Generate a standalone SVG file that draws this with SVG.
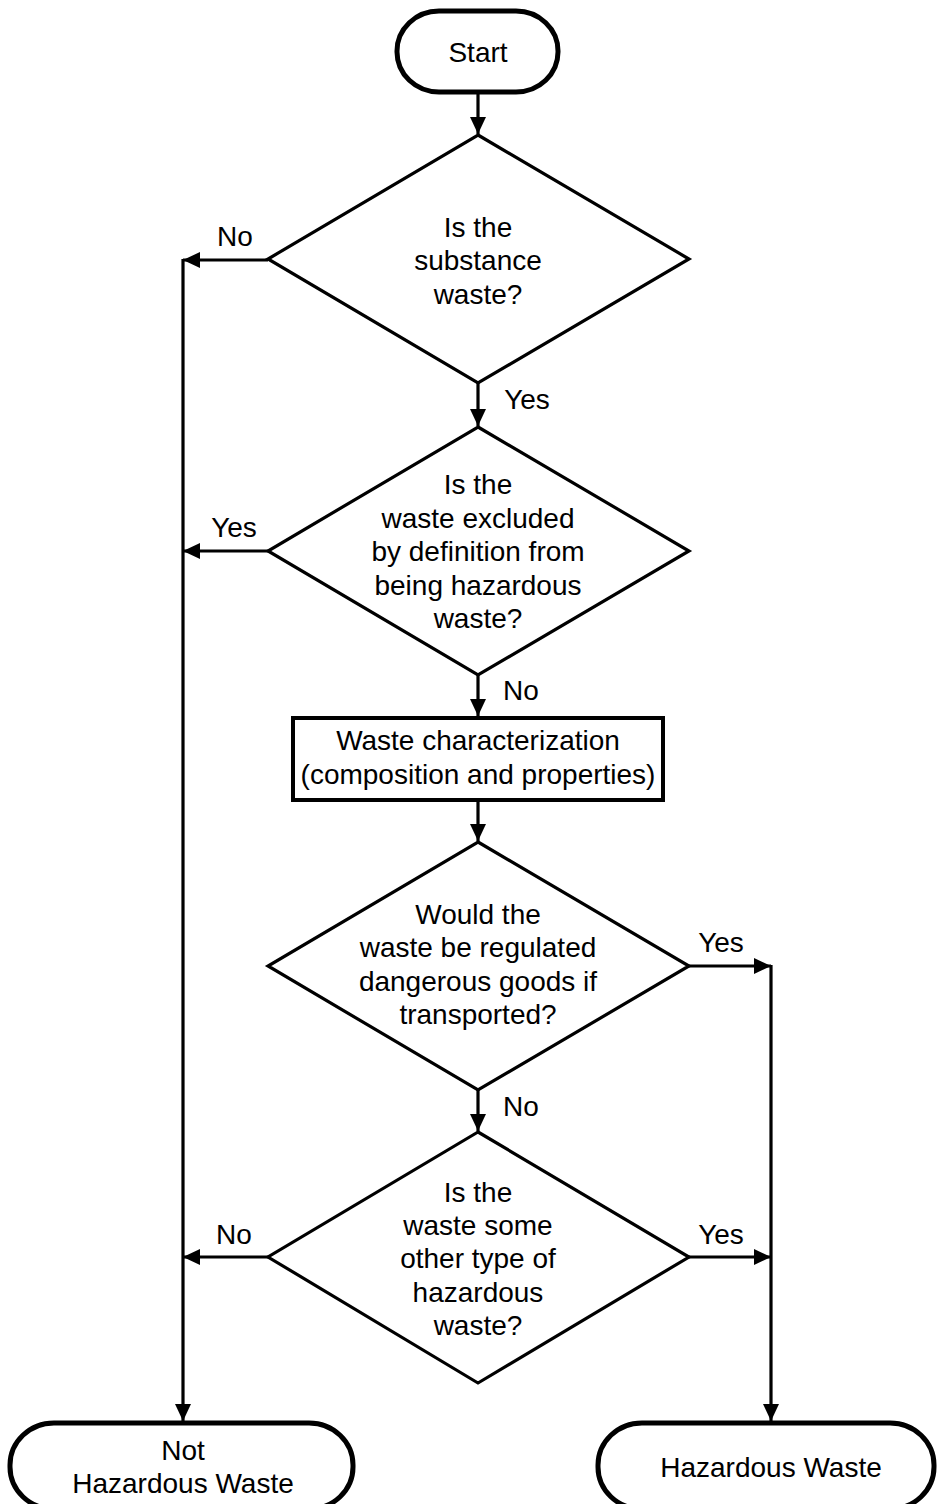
<svg xmlns="http://www.w3.org/2000/svg" width="938" height="1504" viewBox="0 0 938 1504">
  <style>
    .t { font-family: "Liberation Sans", Arial, sans-serif; font-size: 28px; fill: #000; text-anchor: middle; }
    .term { fill: #fff; stroke: #000; stroke-width: 5; }
    .dec { fill: #fff; stroke: #000; stroke-width: 3.2; stroke-linejoin: miter; }
    .proc { fill: #fff; stroke: #000; stroke-width: 4; }
    .c { fill: none; stroke: #000; stroke-width: 3.2; }
  </style>
  <defs>
    <marker id="ah" markerUnits="userSpaceOnUse" markerWidth="18" markerHeight="18" viewBox="0 0 18 18" refX="17" refY="9" orient="auto">
      <path d="M0,1 L17,9 L0,17 Z" fill="#000"/>
    </marker>
  </defs>
  <rect width="938" height="1504" fill="#fff"/>

  <g id="connectors">
    <line class="c" x1="478" y1="92" x2="478" y2="134" marker-end="url(#ah)"/>
    <line class="c" x1="268" y1="260" x2="183" y2="260" marker-end="url(#ah)"/>
    <line class="c" x1="183" y1="259" x2="183" y2="1421" marker-end="url(#ah)"/>
    <line class="c" x1="478" y1="383" x2="478" y2="426" marker-end="url(#ah)"/>
    <line class="c" x1="268" y1="551" x2="183" y2="551" marker-end="url(#ah)"/>
    <line class="c" x1="478" y1="675" x2="478" y2="716" marker-end="url(#ah)"/>
    <line class="c" x1="478" y1="800" x2="478" y2="841" marker-end="url(#ah)"/>
    <line class="c" x1="689" y1="966" x2="771" y2="966" marker-end="url(#ah)"/>
    <line class="c" x1="771" y1="965" x2="771" y2="1421" marker-end="url(#ah)"/>
    <line class="c" x1="478" y1="1090" x2="478" y2="1131" marker-end="url(#ah)"/>
    <line class="c" x1="268" y1="1257" x2="183" y2="1257" marker-end="url(#ah)"/>
    <line class="c" x1="689" y1="1257" x2="771" y2="1257" marker-end="url(#ah)"/>
    <text class="t" x="235" y="246">No</text>
    <text class="t" x="527" y="409">Yes</text>
    <text class="t" x="234" y="537">Yes</text>
    <text class="t" x="521" y="700">No</text>
    <text class="t" x="721" y="952">Yes</text>
    <text class="t" x="521" y="1116">No</text>
    <text class="t" x="234" y="1244">No</text>
    <text class="t" x="721" y="1244">Yes</text>
  </g>

  <g id="start">
    <rect class="term" x="397" y="11" width="161" height="81" rx="42" ry="40"/>
    <text class="t" x="478" y="62">Start</text>
  </g>

  <g id="d1">
    <polygon class="dec" points="478,135 689,259 478,383 268,259"/>
    <text class="t" x="478" y="237">Is the</text>
    <text class="t" x="478" y="270">substance</text>
    <text class="t" x="478" y="304">waste?</text>
  </g>

  <g id="d2">
    <polygon class="dec" points="478,427 689,551 478,675 268,551"/>
    <text class="t" x="478" y="494">Is the</text>
    <text class="t" x="478" y="528">waste excluded</text>
    <text class="t" x="478" y="561">by definition from</text>
    <text class="t" x="478" y="595">being hazardous</text>
    <text class="t" x="478" y="628">waste?</text>
  </g>

  <g id="p1">
    <rect class="proc" x="293" y="718" width="370" height="82"/>
    <text class="t" x="478" y="750">Waste characterization</text>
    <text class="t" x="478" y="784">(composition and properties)</text>
  </g>

  <g id="d3">
    <polygon class="dec" points="478,842 689,966 478,1090 268,966"/>
    <text class="t" x="478" y="924">Would the</text>
    <text class="t" x="478" y="957">waste be regulated</text>
    <text class="t" x="478" y="991">dangerous goods if</text>
    <text class="t" x="478" y="1024">transported?</text>
  </g>

  <g id="d4">
    <polygon class="dec" points="478,1132 689,1257 478,1383 268,1257"/>
    <text class="t" x="478" y="1202">Is the</text>
    <text class="t" x="478" y="1235">waste some</text>
    <text class="t" x="478" y="1268">other type of</text>
    <text class="t" x="478" y="1302">hazardous</text>
    <text class="t" x="478" y="1335">waste?</text>
  </g>

  <g id="not-hazardous">
    <rect class="term" x="10" y="1423" width="343" height="86" rx="44" ry="42"/>
    <text class="t" x="183" y="1460">Not</text>
    <text class="t" x="183" y="1493">Hazardous Waste</text>
  </g>

  <g id="hazardous">
    <rect class="term" x="598" y="1423" width="336" height="86" rx="44" ry="42"/>
    <text class="t" x="771" y="1477">Hazardous Waste</text>
  </g>
</svg>
